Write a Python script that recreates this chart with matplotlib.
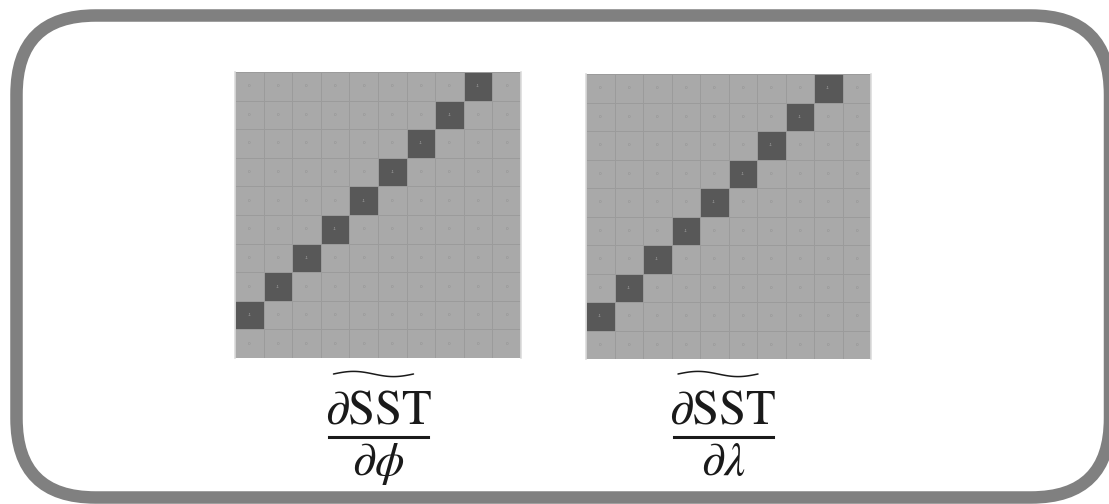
import numpy as np
import matplotlib
matplotlib.use("Agg")
import matplotlib.pyplot as plt
from matplotlib.patches import FancyBboxPatch
from matplotlib.colors import ListedColormap

plt.rcParams['mathtext.fontset'] = 'stix'

# ---- data ----
n_cells = 10
# row (from top) -> column holding the -1 value
diag_rows = [0, 1, 2, 3, 4, 5, 6, 7, 8]
diag_cols = [8, 7, 6, 5, 4, 3, 2, 1, 0]
diag_value = -1
numerator = r'$\mathrm{\partial SST}$'
denominators = [r'$\mathrm{\partial}\phi$', r'$\mathrm{\partial}\lambda$']

def make_matrix():
    m = np.zeros((n_cells, n_cells), dtype=int)
    for r, c in zip(diag_rows, diag_cols):
        m[r, c] = diag_value
    return m

W, H = 1109, 504
fig = plt.figure(figsize=(W / 100, H / 100), dpi=100)
fig.patch.set_facecolor('white')

# background axes in pixel coordinates
bg = fig.add_axes([0, 0, 1, 1])
bg.set_xlim(0, W)
bg.set_ylim(H, 0)
bg.axis('off')

border = FancyBboxPatch((16.5, 15.5), 1110 - 16.5, 497.5 - 15.5,
                        boxstyle="round,pad=0,rounding_size=79",
                        fill=False, edgecolor='#808080', linewidth=9,
                        transform=bg.transData, clip_on=False)
bg.add_patch(border)

cmap = ListedColormap(['#585858', '#a9a9a9'])

panels = [
    dict(x0=235, y0=72, size=286, label_cx=378.5, den=denominators[0]),
    dict(x0=586, y0=74, size=285, label_cx=723, den=denominators[1]),
]

ink = '#1a1a1a'
for p in panels:
    mat = make_matrix()
    ax = fig.add_axes([p['x0'] / W, 1 - (p['y0'] + p['size']) / H,
                       p['size'] / W, p['size'] / H])
    ax.pcolormesh(np.arange(n_cells + 1), np.arange(n_cells + 1), mat,
                  cmap=cmap, vmin=-1, vmax=0,
                  edgecolors='#9b9b9b', linewidth=0.6)
    ax.set_xlim(0, n_cells)
    ax.set_ylim(n_cells, 0)
    ax.set_xticks([])
    ax.set_yticks([])
    for s in ax.spines.values():
        s.set_visible(False)
    for r in range(n_cells):
        for c in range(n_cells):
            v = mat[r, c]
            ax.text(c + 0.5, r + 0.5, str(v), ha='center', va='center',
                    fontsize=3, color='#a0a0a0' if v < 0 else '#8e8e8e')
    # light edge lines
    ax.plot([0, 0], [0, n_cells], color='#dcdcdc', lw=1.2, clip_on=False)
    ax.plot([n_cells, n_cells], [0, n_cells], color='#dcdcdc', lw=1.2, clip_on=False)

    cx = p['label_cx']
    bg.text(cx, 423, numerator, ha='center', va='baseline',
            fontsize=35, color=ink)
    # tilde accent over the numerator
    t = np.linspace(0, 1, 60)
    bg.plot(cx - 45 + 80 * t, 374 - 2.6 * np.sin(2 * np.pi * t),
            color=ink, lw=1.1, solid_capstyle='round')
    bg.plot([cx - 49.5, cx + 49.5], [436.5, 436.5], color=ink, lw=2.2)
    bg.text(cx, 475, p['den'], ha='center', va='baseline',
            fontsize=34, color=ink)

fig.savefig('out.png', dpi=100, facecolor='white')
